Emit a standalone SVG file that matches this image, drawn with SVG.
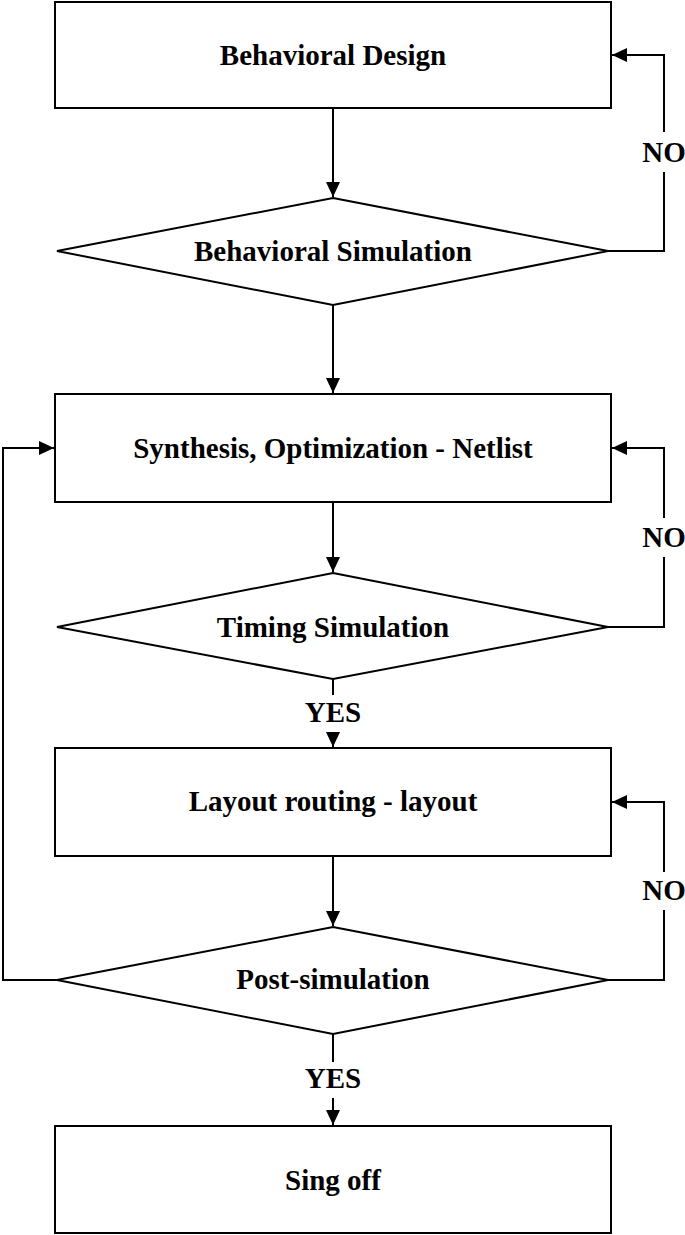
<svg xmlns="http://www.w3.org/2000/svg" width="685" height="1235" viewBox="0 0 685 1235">
<style>
.shape{fill:#fff;stroke:#000;stroke-width:2}
.line{fill:none;stroke:#000;stroke-width:2}
text{font-family:"Liberation Serif","Times New Roman",serif;font-size:29px;font-weight:bold;fill:#000;text-anchor:middle}
</style>
<defs>
<marker id="arr" markerUnits="userSpaceOnUse" markerWidth="16" markerHeight="14" refX="15" refY="7" orient="auto">
<path d="M0,0 L15,7 L0,14 Z" fill="#000"/>
</marker>
</defs>
<rect width="685" height="1235" fill="#fff"/>
<g id="connectors">
<path class="line" d="M333,108 V197" marker-end="url(#arr)"/>
<path class="line" d="M608,251 H664 V172"/>
<path class="line" d="M664,132 V55 H612" marker-end="url(#arr)"/>
<path class="line" d="M333,305 V393" marker-end="url(#arr)"/>
<path class="line" d="M57,980 H3 V448 H54" marker-end="url(#arr)"/>
<path class="line" d="M608,627 H664 V557"/>
<path class="line" d="M664,518 V448 H612" marker-end="url(#arr)"/>
<path class="line" d="M333,502 V572" marker-end="url(#arr)"/>
<path class="line" d="M333,679 V695"/>
<path class="line" d="M333,733 V747" marker-end="url(#arr)"/>
<path class="line" d="M333,856 V926" marker-end="url(#arr)"/>
<path class="line" d="M608,980 H664 V910"/>
<path class="line" d="M664,872 V802 H612" marker-end="url(#arr)"/>
<path class="line" d="M333,1034 V1062"/>
<path class="line" d="M333,1098 V1125" marker-end="url(#arr)"/>
<text x="664" y="162">NO</text>
<text x="664" y="547">NO</text>
<text x="664" y="900">NO</text>
<text x="333" y="722">YES</text>
<text x="333" y="1088">YES</text>
</g>
<g id="behavioral-design">
<rect class="shape" x="55" y="2" width="556" height="106"/>
<text x="333" y="65">Behavioral Design</text>
</g>
<g id="behavioral-simulation">
<polygon class="shape" points="333,198 608,251 333,305 57,251"/>
<text x="333" y="261">Behavioral Simulation</text>
</g>
<g id="synthesis">
<rect class="shape" x="55" y="394" width="556" height="108"/>
<text x="333" y="458">Synthesis, Optimization - Netlist</text>
</g>
<g id="timing-simulation">
<polygon class="shape" points="333,573 608,627 333,679 57,627"/>
<text x="333" y="637">Timing Simulation</text>
</g>
<g id="layout-routing">
<rect class="shape" x="55" y="748" width="556" height="108"/>
<text x="333" y="811">Layout routing - layout</text>
</g>
<g id="post-simulation">
<polygon class="shape" points="333,927 608,980 333,1034 57,980"/>
<text x="333" y="989">Post-simulation</text>
</g>
<g id="sign-off">
<rect class="shape" x="55" y="1126" width="556" height="107"/>
<text x="333" y="1190">Sing off</text>
</g>
</svg>
